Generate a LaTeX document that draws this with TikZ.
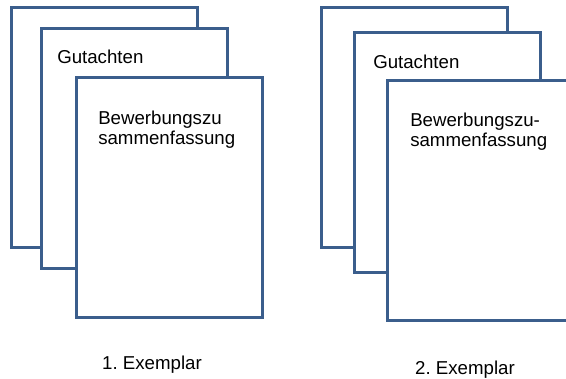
\documentclass[tikz,border=0pt]{standalone}
\usepackage{fontspec}
\setmainfont{Liberation Sans}
\frenchspacing
\definecolor{pageblue}{HTML}{3B5E8C}
\begin{document}
\begin{tikzpicture}[x=0.75pt,y=-0.75pt]

    \tikzset{
      page/.style={
        draw=pageblue,
        fill=white,
        line width=2.4pt,
        anchor=north west,
        inner sep=0pt,
        minimum width=139.5pt,
        minimum height=180pt,
      },
      pagetext/.style={
        anchor=north west,
        inner sep=0pt,
        align=left,
        font=\fontsize{14}{15}\selectfont,
      },
      caption/.style={
        anchor=north,
        inner sep=0pt,
        font=\fontsize{14}{15}\selectfont,
      },
    }
    \useasboundingbox (0,0) rectangle (566,378);
    % first copy
    \node[page] (back1) at (10,6) {};
    \node[page] (mid1) at (40,27) {};
    \node[page] (front1) at (75,76) {};
    \node[pagetext] (gut1) at (57,50) {Gutachten};
    \node[pagetext] (bew1) at (98,111) {Bewerbungszu\\sammenfassung};
    \node[caption] (ex1) at (152,356) {1. Exemplar};
    % second copy
    \node[page] (back2) at (320,6) {};
    \node[page] (mid2) at (353,31) {};
    \node[page] (front2) at (386,79) {};
    \node[pagetext] (gut2) at (373,55) {Gutachten};
    \node[pagetext] (bew2) at (410,113) {Bewerbungszu-\\sammenfassung};
    \node[caption] (ex2) at (465,361) {2. Exemplar};

\end{tikzpicture}
\end{document}
